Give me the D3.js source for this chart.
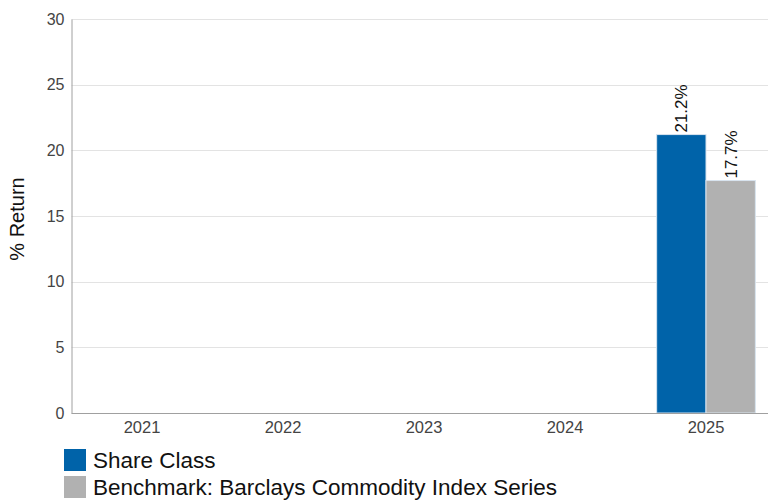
<!DOCTYPE html>
<html lang="en">
<head>
  <meta charset="UTF-8">
  <title>Annual Returns</title>
  <script src="https://d3js.org/d3.v7.min.js"></script>
  <style>
    body { margin: 0; background: #fff; }
    svg { display: block; font-family: "Liberation Sans", Arial, sans-serif; }
  </style>
</head>
<body>
  <svg width="768" height="502"></svg>

  <script>
    const years = ["2021", "2022", "2023", "2024", "2025"];
    const seriesNames = ["Share Class", "Benchmark: Barclays Commodity Index Series"];
    const shareClass = [null, null, null, null, 21.2];
    const benchmark = [null, null, null, null, 17.7];
    const colors = ["#0063a9", "#b1b1b1"];
    const yTicks = [0, 5, 10, 15, 20, 25, 30];

    const width = 768;
    const svg = d3.select("svg");

    const x = d3.scaleBand()
      .domain(years)
      .range([71.5, 776.5])
      .paddingInner(0.3)
      .paddingOuter(0.15);

    const xSub = d3.scaleBand()
      .domain(seriesNames)
      .range([0, x.bandwidth()]);

    const y = d3.scaleLinear()
      .domain([0, 30])
      .range([413, 19]);

    // gridlines
    svg.append("g")
      .selectAll("line")
      .data(yTicks.filter(d => d > 0))
      .join("line")
      .attr("x1", 71.5)
      .attr("x2", width)
      .attr("y1", d => Math.round(y(d)) + 0.5)
      .attr("y2", d => Math.round(y(d)) + 0.5)
      .attr("stroke", "#e3e3e3");

    // y axis
    const yAxis = svg.append("g")
      .attr("transform", "translate(71.5,0)")
      .call(d3.axisLeft(y).tickValues(yTicks).tickSize(0).tickPadding(7));
    yAxis.select(".domain").attr("stroke", "#a0a0a0");
    yAxis.selectAll("text")
      .attr("font-size", 16)
      .attr("fill", "#444")
      .attr("font-family", "Liberation Sans, Arial, sans-serif");

    // bars
    const rows = years.map((yr, i) => ({ year: yr, values: [shareClass[i], benchmark[i]] }));
    const groups = svg.append("g")
      .selectAll("g")
      .data(rows)
      .join("g")
      .attr("transform", d => `translate(${x(d.year)},0)`);

    const bars = groups.selectAll("g")
      .data(d => d.values.map((v, j) => ({ name: seriesNames[j], value: v, color: colors[j] })).filter(e => e.value !== null))
      .join("g");

    bars.append("rect")
      .attr("x", d => xSub(d.name))
      .attr("y", d => y(d.value))
      .attr("width", xSub.bandwidth())
      .attr("height", d => y(0) - y(d.value))
      .attr("fill", d => d.color)
      .attr("stroke", "#d8e4ef")
      .attr("stroke-width", 1);

    bars.append("text")
      .attr("transform", d => `translate(${xSub(d.name) + xSub.bandwidth() / 2 + 6},${y(d.value) - 2}) rotate(-90)`)
      .attr("font-size", 17)
      .attr("fill", "#111")
      .text(d => d.value.toFixed(1) + "%");

    // x axis
    const xAxis = svg.append("g")
      .attr("transform", "translate(0,413.5)")
      .call(d3.axisBottom(x).tickSize(0).tickPadding(8));
    xAxis.select(".domain").attr("d", `M71.5,0H${width}`).attr("stroke", "#a0a0a0");
    xAxis.selectAll("text")
      .attr("font-size", 16.5)
      .attr("fill", "#444")
      .attr("font-family", "Liberation Sans, Arial, sans-serif");

    // y title
    svg.append("text")
      .attr("transform", "translate(24,219) rotate(-90)")
      .attr("text-anchor", "middle")
      .attr("font-size", 20)
      .attr("fill", "#111")
      .text("% Return");

    // legend
    const legend = svg.append("g")
      .selectAll("g")
      .data(seriesNames)
      .join("g")
      .attr("transform", (d, i) => `translate(64,${449 + i * 27})`);
    legend.append("rect")
      .attr("width", 22)
      .attr("height", 22)
      .attr("fill", (d, i) => colors[i]);
    legend.append("text")
      .attr("x", 29)
      .attr("y", 19)
      .attr("font-size", 22.5)
      .attr("fill", "#111")
      .text(d => d);
  </script>
</body>
</html>
